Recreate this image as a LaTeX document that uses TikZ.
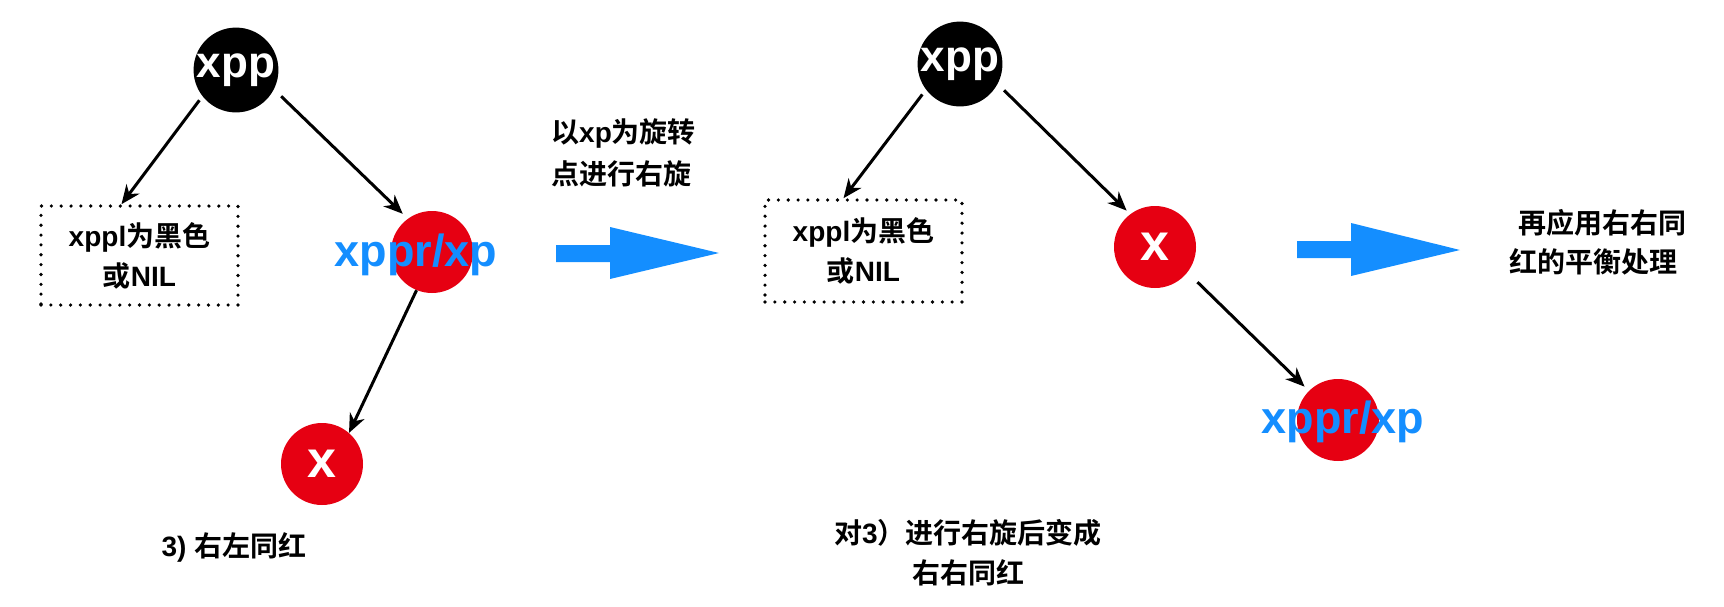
\documentclass[tikz,border=0pt]{standalone}
\usepackage{fontspec}
\setmainfont{Liberation Sans}
\newfontfamily\cjk{Noto Sans CJK SC}[BoldFont={Noto Sans CJK SC Bold}]
\usetikzlibrary{arrows.meta}
\definecolor{nodered}{RGB}{230,0,18}
\definecolor{arrblue}{RGB}{20,142,255}
\begin{document}
\begin{tikzpicture}[x=1pt,y=-1pt,
  bk/.style={circle, fill=black, minimum size=81pt, inner sep=0pt, text=white,
    font=\fontsize{44}{44}\selectfont\bfseries},
  rb/.style={circle, fill=nodered, minimum size=82pt, inner sep=0pt, text=white,
    font=\fontsize{52}{52}\selectfont\bfseries},
  bluetxt/.style={text=arrblue, inner sep=0pt, font=\fontsize{45}{45}\selectfont\bfseries},
  dotbox/.style={draw, line width=3.6pt, dash pattern=on 0pt off 9.85pt, line cap=round,
    minimum width=197pt, minimum height=99pt, align=center, inner sep=0pt,
    font=\fontsize{28}{40}\selectfont\bfseries},
  captxt/.style={align=center, inner sep=0pt, font=\fontsize{28}{40}\selectfont\bfseries},
  arr/.style={draw, line width=3pt, -{Stealth[length=19pt, width=16pt, inset=6pt]}},
  bigarrow/.style={fill=arrblue}
]
\useasboundingbox (0,0) rectangle (1724,606);

% left tree
\node[bk] (xppL) at (236,70) {xpp};
\node[dotbox] (boxL) at (139.5,255.5) {xppl{\cjk 为黑色}\\{\cjk 或}NIL};
\node[rb] (xpprL) at (432,252) {};
\node[bluetxt] (xpprLt) at (416,255) {xppr/xp};
\node[rb] (xL) at (322,464) {x};
\node[captxt] (capL) at (234,547) {3) {\cjk 右左同红}};

\draw[arr, shorten <=5pt] (xppL.218) -- ([xshift=-18pt]boxL.north);
\draw[arr, shorten <=10pt, shorten >=7pt] (xppL.-27) -- (xpprL.126);
\draw[arr] (xpprL.248) -- (xL.49);

% rotation note and arrow
\node[captxt, align=left, anchor=west, font=\fontsize{28}{42}\selectfont\bfseries] (rot) at (551,153)
  {{\cjk 以}xp{\cjk 为旋转}\\{\cjk 点进行右旋}};
\fill[bigarrow] (556,245) -- (610,245) -- (610,227) -- (719,253) -- (610,279) -- (610,262) -- (556,262) -- cycle;

% middle tree
\node[bk] (xppM) at (960,64) {xpp};
\node[dotbox, minimum height=102pt] (boxM) at (863.5,251) {xppl{\cjk 为黑色}\\{\cjk 或}NIL};
\node[rb] (xM) at (1155,247) {x};
\node[rb] (xpprM) at (1338,420) {};
\node[bluetxt] (xpprMt) at (1343,422) {xppr/xp};
\node[captxt] (capM) at (968,553) {{\cjk 对}3{\cjk ）进行右旋后变成}\\{\cjk 右右同红}};

\draw[arr, shorten <=6pt] (xppM.217) -- ([xshift=-20pt]boxM.north);
\draw[arr, shorten <=9pt, shorten >=5pt] (xppM.-28) -- (xM.127);
\draw[arr, shorten <=14pt, shorten >=6pt] (xM.-38) -- (xpprM.135);

% final arrow and note
\fill[bigarrow] (1297,241) -- (1351,241) -- (1351,223) -- (1460,250) -- (1351,276) -- (1351,258) -- (1297,258) -- cycle;
\node[captxt, align=left, anchor=west, font=\fontsize{28}{39}\selectfont\bfseries] (final) at (1509,242.5)
  {\hspace*{9pt}{\cjk 再应用右右同}\\{\cjk 红的平衡处理}};
\end{tikzpicture}
\end{document}
